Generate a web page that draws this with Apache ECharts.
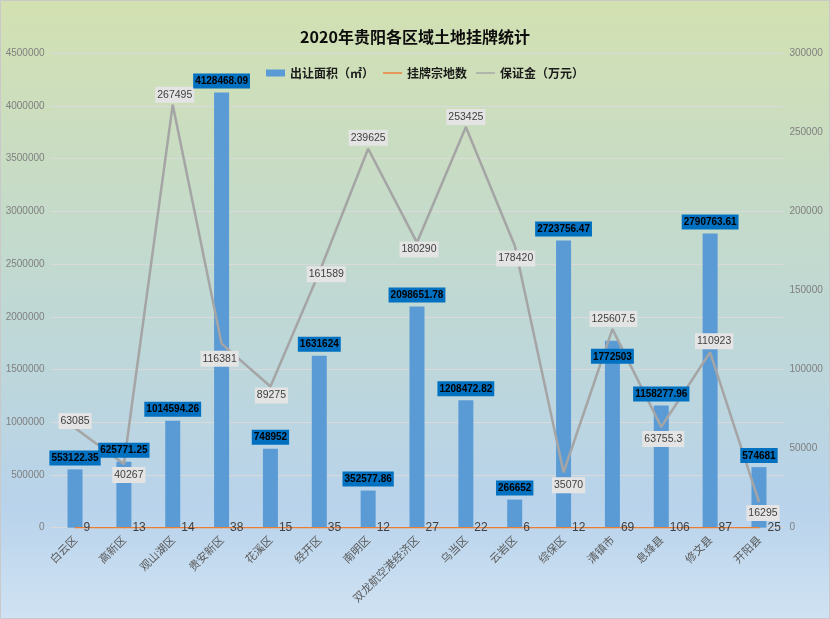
<!DOCTYPE html>
<html>
<head>
<meta charset="utf-8">
<script src="https://cdn.jsdelivr.net/npm/echarts@6/dist/echarts.min.js"></script>
<style>
html,body{margin:0;padding:0;}
#c{width:830px;height:619px;}
</style>
</head>
<body>
<div id="c"></div>
<script>
const titleText = '2020年贵阳各区域土地挂牌统计';
const categories = ['白云区','高新区','观山湖区','贵安新区','花溪区','经开区','南明区','双龙航空港经济区','乌当区','云岩区','综保区','清镇市','息烽县','修文县','开阳县'];
const seriesNames = ['出让面积（㎡）','挂牌宗地数','保证金（万元）'];
const area = [553122.35,625771.25,1014594.26,4128468.09,748952,1631624,352577.86,2098651.78,1208472.82,266652,2723756.47,1772503,1158277.96,2790763.61,574681];
const parcels = [9,13,14,38,15,35,12,27,22,6,12,69,106,87,25];
const deposit = [63085,40267,267495,116381,89275,161589,239625,180290,253425,178420,35070,125607.5,63755.3,110923,16295];
const leftTicks = {min:0, max:4500000, interval:500000};
const rightTicks = {min:0, max:300000, interval:50000};

// label placement styling (not data)
const depositLabelOffsets = [[0,-7],[5,11],[2,-10],[-2,15],[1,9],[7,2],[0,-11],[2,7],[0,-10],[1,13],[5,13],[1,-10],[2,12],[4,-11],[4,11]];
const barLabelInside = [false,false,false,false,false,false,false,false,false,false,false,true,false,false,false];

const numFont = "'Liberation Sans','Arial',sans-serif";
const cjkFont = "'Noto Sans CJK SC','Noto Sans',sans-serif";

const chart = echarts.init(document.getElementById('c'), null, {renderer:'canvas'});

const barLabelData = area.map((v,i)=>{
  const o = {value:v};
  if (barLabelInside[i]) o.label = {position:'insideTop', distance:8};
  return o;
});
const depData = deposit.map((v,i)=>({value:v, label:{offset:depositLabelOffsets[i]}}));

const lineIcon = 'path://M0,0L40,0L40,3L0,3Z';

chart.setOption({
  animation:false,
  backgroundColor:{type:'linear',x:0,y:0,x2:0,y2:1,colorStops:[
    {offset:0,color:'#d3e1b1'},
    {offset:0.45,color:'#c1d9d1'},
    {offset:0.82,color:'#b8d3eb'},
    {offset:1,color:'#d0e2f3'}
  ]},
  graphic:[{type:'rect',shape:{x:0.5,y:0.5,width:829,height:618},style:{fill:'none',stroke:'#c9c9c9',lineWidth:1},silent:true,z:100}],
  title:{text:titleText,left:'center',top:24,textStyle:{fontFamily:cjkFont,fontSize:16,fontWeight:'bold',color:'#0d0d0d'}},
  legend:{
    top:62,left:261,itemWidth:19,itemHeight:7,itemGap:9,symbolKeepAspect:true,
    textStyle:{fontFamily:cjkFont,fontSize:12,fontWeight:'bold',color:'#1a1a1a'},
    data:[{name:seriesNames[0],icon:'rect'},{name:seriesNames[1],icon:lineIcon},{name:seriesNames[2],icon:lineIcon}]
  },
  grid:{left:50.6,right:46.6,top:53.3,bottom:91.3,containLabel:false},
  xAxis:{
    type:'category',data:categories,boundaryGap:true,
    axisLine:{show:true,lineStyle:{color:'#d9d9d9',width:1}},
    axisTick:{show:false},
    axisLabel:{interval:0,rotate:45,margin:10,color:'#595959',fontSize:11,fontFamily:cjkFont}
  },
  yAxis:[
    {type:'value',min:leftTicks.min,max:leftTicks.max,interval:leftTicks.interval,
     axisLine:{show:false},axisTick:{show:false},
     splitLine:{lineStyle:{color:'#dadada',width:1}},
     axisLabel:{color:'#7f7f7f',fontSize:10,margin:6,fontFamily:numFont,formatter:v=>String(v)}},
    {type:'value',min:rightTicks.min,max:rightTicks.max,interval:rightTicks.interval,
     axisLine:{show:false},axisTick:{show:false},splitLine:{show:false},
     axisLabel:{color:'#7f7f7f',fontSize:10,margin:6,fontFamily:numFont,formatter:v=>String(v)}}
  ],
  series:[
    {name:seriesNames[0],type:'bar',yAxisIndex:0,data:area,barWidth:15,z:2,
     itemStyle:{color:'#5b9bd5'},label:{show:false}},
    {name:seriesNames[1],type:'line',yAxisIndex:0,data:parcels,z:3,
     symbol:'circle',symbolSize:1,showSymbol:true,
     itemStyle:{color:'#ed7d31'},lineStyle:{color:'#ed7d31',width:1.5},
     label:{show:true,position:'right',distance:8,color:'#404040',fontSize:12,fontFamily:numFont}},
    {name:seriesNames[2],type:'line',yAxisIndex:1,data:depData,z:4,
     symbol:'circle',symbolSize:1,showSymbol:true,
     itemStyle:{color:'#a5a5a5'},lineStyle:{color:'#a5a5a5',width:2.5},
     label:{show:true,position:'inside',color:'#404040',fontSize:10.5,fontFamily:numFont,
            backgroundColor:'#e4e4e4',padding:[3,2,2,2]}},
    {name:'area-labels',type:'bar',yAxisIndex:0,data:barLabelData,barWidth:15,barGap:'-100%',z:6,
     itemStyle:{color:'rgba(0,0,0,0)'},silent:true,
     label:{show:true,position:'top',distance:4,color:'#000',fontWeight:'bold',fontSize:10,fontFamily:numFont,
            backgroundColor:'#0070c0',padding:[3,2,2,2]}}
  ]
});
</script>
</body>
</html>
